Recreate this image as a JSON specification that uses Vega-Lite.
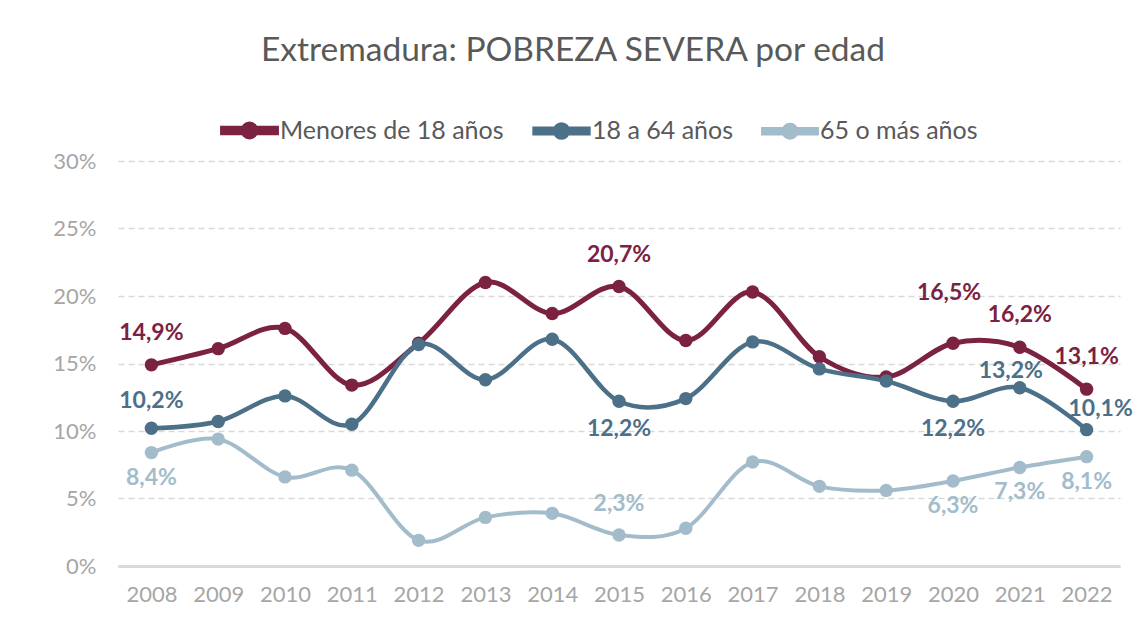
{
  "$schema": "https://vega.github.io/schema/vega-lite/v6.json",
  "width": 1002,
  "height": 405,
  "autosize": {"type": "none"},
  "padding": {"left": 118, "top": 161, "right": 23, "bottom": 60},
  "background": "white",
  "config": {
    "locale": {"number": {"decimal": ",", "thousands": ".", "grouping": [3], "currency": ["", " €"]}},
    "font": "Lato",
    "view": {"stroke": null}
  },
  "title": {
    "text": "Extremadura: POBREZA SEVERA por edad",
    "fontSize": 33.5,
    "fontWeight": "normal",
    "color": "#595959",
    "font": "Lato",
    "anchor": "middle",
    "dx": -46,
    "offset": 33
  },
  "data": {
    "values": [
      {"year": "2008", "grupo": "Menores de 18 años", "value": 0.149},
      {"year": "2009", "grupo": "Menores de 18 años", "value": 0.161},
      {"year": "2010", "grupo": "Menores de 18 años", "value": 0.176},
      {"year": "2011", "grupo": "Menores de 18 años", "value": 0.134},
      {"year": "2012", "grupo": "Menores de 18 años", "value": 0.165},
      {"year": "2013", "grupo": "Menores de 18 años", "value": 0.210},
      {"year": "2014", "grupo": "Menores de 18 años", "value": 0.187},
      {"year": "2015", "grupo": "Menores de 18 años", "value": 0.207},
      {"year": "2016", "grupo": "Menores de 18 años", "value": 0.167},
      {"year": "2017", "grupo": "Menores de 18 años", "value": 0.203},
      {"year": "2018", "grupo": "Menores de 18 años", "value": 0.155},
      {"year": "2019", "grupo": "Menores de 18 años", "value": 0.140},
      {"year": "2020", "grupo": "Menores de 18 años", "value": 0.165},
      {"year": "2021", "grupo": "Menores de 18 años", "value": 0.162},
      {"year": "2022", "grupo": "Menores de 18 años", "value": 0.131},
      {"year": "2008", "grupo": "18 a 64 años", "value": 0.102},
      {"year": "2009", "grupo": "18 a 64 años", "value": 0.107},
      {"year": "2010", "grupo": "18 a 64 años", "value": 0.126},
      {"year": "2011", "grupo": "18 a 64 años", "value": 0.105},
      {"year": "2012", "grupo": "18 a 64 años", "value": 0.164},
      {"year": "2013", "grupo": "18 a 64 años", "value": 0.138},
      {"year": "2014", "grupo": "18 a 64 años", "value": 0.168},
      {"year": "2015", "grupo": "18 a 64 años", "value": 0.122},
      {"year": "2016", "grupo": "18 a 64 años", "value": 0.124},
      {"year": "2017", "grupo": "18 a 64 años", "value": 0.166},
      {"year": "2018", "grupo": "18 a 64 años", "value": 0.146},
      {"year": "2019", "grupo": "18 a 64 años", "value": 0.137},
      {"year": "2020", "grupo": "18 a 64 años", "value": 0.122},
      {"year": "2021", "grupo": "18 a 64 años", "value": 0.132},
      {"year": "2022", "grupo": "18 a 64 años", "value": 0.101},
      {"year": "2008", "grupo": "65 o más años", "value": 0.084},
      {"year": "2009", "grupo": "65 o más años", "value": 0.094},
      {"year": "2010", "grupo": "65 o más años", "value": 0.066},
      {"year": "2011", "grupo": "65 o más años", "value": 0.071},
      {"year": "2012", "grupo": "65 o más años", "value": 0.019},
      {"year": "2013", "grupo": "65 o más años", "value": 0.036},
      {"year": "2014", "grupo": "65 o más años", "value": 0.039},
      {"year": "2015", "grupo": "65 o más años", "value": 0.023},
      {"year": "2016", "grupo": "65 o más años", "value": 0.028},
      {"year": "2017", "grupo": "65 o más años", "value": 0.077},
      {"year": "2018", "grupo": "65 o más años", "value": 0.059},
      {"year": "2019", "grupo": "65 o más años", "value": 0.056},
      {"year": "2020", "grupo": "65 o más años", "value": 0.063},
      {"year": "2021", "grupo": "65 o más años", "value": 0.073},
      {"year": "2022", "grupo": "65 o más años", "value": 0.081}
    ]
  },
  "encoding": {
    "x": {
      "field": "year",
      "type": "ordinal",
      "scale": {"type": "point", "padding": 0.5},
      "axis": {
        "title": null,
        "labelAngle": 0,
        "labelFontSize": 22,
        "labelColor": "#A6A6A6",
        "labelPadding": 18,
        "ticks": false,
        "domainColor": "#D9D9D9",
        "domainWidth": 3,
        "grid": false
      }
    },
    "y": {
      "field": "value",
      "type": "quantitative",
      "scale": {"domain": [0, 0.3]},
      "axis": {
        "title": null,
        "values": [0, 0.05, 0.1, 0.15, 0.2, 0.25, 0.3],
        "format": ".0%",
        "labelFontSize": 22,
        "labelColor": "#A6A6A6",
        "labelPadding": 22,
        "ticks": false,
        "domain": false,
        "gridColor": "#D9D9D9",
        "gridDash": [6, 4],
        "gridWidth": 1.5
      }
    },
    "color": {
      "field": "grupo",
      "type": "nominal",
      "scale": {
        "domain": ["Menores de 18 años", "18 a 64 años", "65 o más años"],
        "range": ["#7B2141", "#4D7089", "#A3BCCB"]
      },
      "legend": {
        "title": null,
        "orient": "none",
        "direction": "horizontal",
        "legendX": 102,
        "legendY": -60,
        "labelFontSize": 25,
        "labelColor": "#595959",
        "labelFont": "Lato",
        "labelLimit": 400,
        "symbolType": "M-1,-0.08H1V0.08H-1Z M-0.24,0A0.24,0.24 0 1,1 0.24,0A0.24,0.24 0 1,1 -0.24,0Z",
        "symbolSize": 2900,
        "symbolStrokeWidth": 0,
        "columnPadding": 21,
        "labelOffset": 1,
        "encode": {
          "symbols": {
            "update": {
              "fill": {"scale": "color", "field": "value"},
              "stroke": {"value": "transparent"},
              "opacity": {"value": 1}
            }
          }
        }
      }
    }
  },
  "layer": [
    {
      "mark": {"type": "line", "interpolate": "cardinal", "tension": 0},
      "encoding": {
        "strokeWidth": {
          "field": "grupo",
          "type": "nominal",
          "scale": {"domain": ["Menores de 18 años", "18 a 64 años", "65 o más años"], "range": [5, 4, 3.5]},
          "legend": null
        }
      }
    },
    {
      "mark": {"type": "point", "filled": true, "opacity": 1, "size": 180}
    },
    {
      "transform": [{"filter": "datum.grupo == 'Menores de 18 años' && indexof(['2008','2015','2021','2022'], datum.year) >= 0"}],
      "mark": {"type": "text", "fontWeight": "bold", "fontSize": 23, "dy": -32, "baseline": "middle"},
      "encoding": {"text": {"field": "value", "type": "quantitative", "format": ".1%"}}
    },
    {
      "transform": [{"filter": "datum.grupo == 'Menores de 18 años' && datum.year == '2020'"}],
      "mark": {"type": "text", "fontWeight": "bold", "fontSize": 23, "dy": -50, "dx": -4, "baseline": "middle"},
      "encoding": {"text": {"field": "value", "type": "quantitative", "format": ".1%"}}
    },
    {
      "transform": [{"filter": "datum.grupo == '18 a 64 años' && datum.year == '2008'"}],
      "mark": {"type": "text", "fontWeight": "bold", "fontSize": 23, "dy": -27, "baseline": "middle"},
      "encoding": {"text": {"field": "value", "type": "quantitative", "format": ".1%"}}
    },
    {
      "transform": [{"filter": "datum.grupo == '18 a 64 años' && datum.year == '2021'"}],
      "mark": {"type": "text", "fontWeight": "bold", "fontSize": 23, "dy": -17, "dx": -9, "baseline": "middle"},
      "encoding": {"text": {"field": "value", "type": "quantitative", "format": ".1%"}}
    },
    {
      "transform": [{"filter": "datum.grupo == '18 a 64 años' && datum.year == '2022'"}],
      "mark": {"type": "text", "fontWeight": "bold", "fontSize": 23, "dy": -21, "dx": 14, "baseline": "middle"},
      "encoding": {"text": {"field": "value", "type": "quantitative", "format": ".1%"}}
    },
    {
      "transform": [{"filter": "datum.grupo == '18 a 64 años' && indexof(['2015','2020'], datum.year) >= 0"}],
      "mark": {"type": "text", "fontWeight": "bold", "fontSize": 23, "dy": 28, "baseline": "middle"},
      "encoding": {"text": {"field": "value", "type": "quantitative", "format": ".1%"}}
    },
    {
      "transform": [{"filter": "datum.grupo == '65 o más años' && indexof(['2008','2020','2021','2022'], datum.year) >= 0"}],
      "mark": {"type": "text", "fontWeight": "bold", "fontSize": 23, "dy": 25, "baseline": "middle"},
      "encoding": {"text": {"field": "value", "type": "quantitative", "format": ".1%"}}
    },
    {
      "transform": [{"filter": "datum.grupo == '65 o más años' && datum.year == '2015'"}],
      "mark": {"type": "text", "fontWeight": "bold", "fontSize": 23, "dy": -31, "baseline": "middle"},
      "encoding": {"text": {"field": "value", "type": "quantitative", "format": ".1%"}}
    }
  ]
}
